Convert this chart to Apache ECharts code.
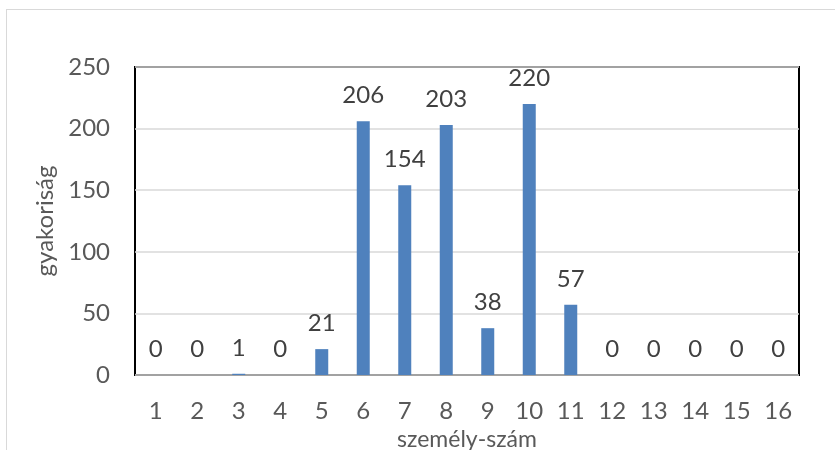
<!DOCTYPE html>
<html><head><meta charset="utf-8">
<script src="https://cdn.jsdelivr.net/npm/echarts@6/dist/echarts.min.js"></script>
<style>
html,body{margin:0;padding:0;background:#fff;}
#frame{position:absolute;left:6px;top:9px;width:900px;height:500px;border:1px solid #d9d9d9;box-sizing:border-box;}
#c{position:absolute;left:0;top:0;width:835px;height:450px;}
</style></head>
<body>
<div id="frame"></div>
<div id="c"></div>
<script>
const categories = ['1','2','3','4','5','6','7','8','9','10','11','12','13','14','15','16'];
const values = [0,0,1,0,21,206,154,203,38,220,57,0,0,0,0,0];
const yTicks = {min:0, max:250, interval:50};
const xName = 'személy-szám';
const yName = 'gyakoriság';

const font = 'Lato, "Open Sans", sans-serif';
const chart = echarts.init(document.getElementById('c'), null, {renderer:'canvas'});
chart.setOption({
  animation:false,
  backgroundColor:'transparent',
  grid:{left:135, top:67, width:664, height:308, show:true, borderColor:'#000', borderWidth:2, backgroundColor:'transparent', containLabel:false, outerBoundsMode:'none'},
  xAxis:{
    type:'category', data:categories,
    name:xName, nameLocation:'middle', nameGap:50,
    nameTextStyle:{color:'#595959', fontSize:23, fontFamily:font},
    axisLine:{show:false}, axisTick:{show:false},
    axisLabel:{color:'#595959', fontSize:24, fontFamily:font, margin:24}
  },
  yAxis:{
    type:'value', min:yTicks.min, max:yTicks.max, interval:yTicks.interval,
    name:yName, nameLocation:'middle', nameGap:72, nameRotate:90,
    nameTextStyle:{color:'#595959', fontSize:24, fontFamily:font},
    axisLine:{show:false}, axisTick:{show:false},
    axisLabel:{color:'#595959', fontSize:24, fontFamily:font, margin:25},
    splitLine:{lineStyle:{color:'#d9d9d9', width:1.5}}
  },
  series:[{
    type:'bar', data:values, barWidth:13,
    itemStyle:{color:'#4f81bd'},
    label:{show:true, position:'top', distance:14, color:'#404040', fontSize:24, fontFamily:font}
  }]
});
</script>
</body></html>
